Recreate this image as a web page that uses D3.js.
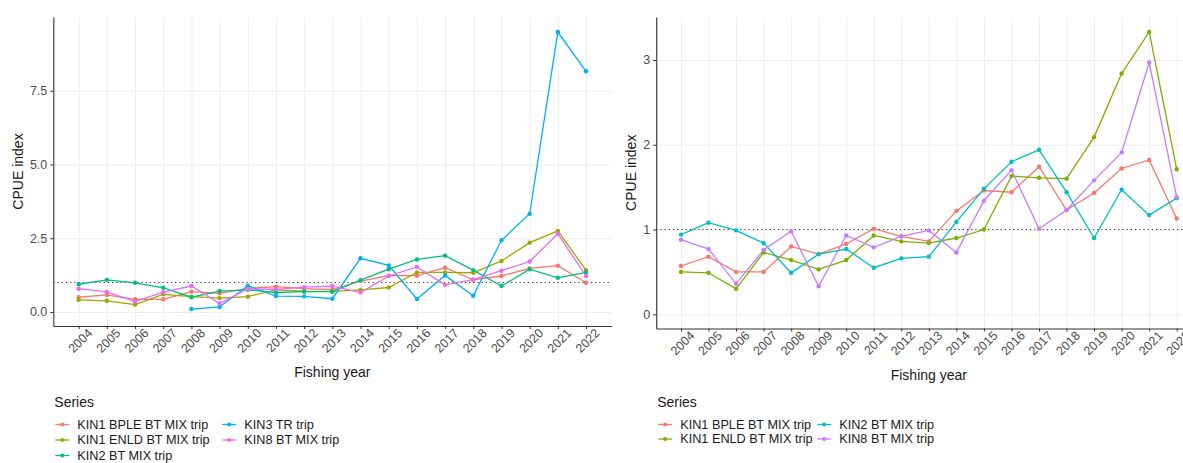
<!DOCTYPE html>
<html>
<head>
<meta charset="utf-8">
<script src="https://cdn.jsdelivr.net/npm/d3@7"></script>
<style>
  body { margin: 0; background: #fff; }
  svg { font-family: "Liberation Sans", Arial, sans-serif; }
  .grid line { stroke: #ebebeb; stroke-width: 0.9; }
  .grid path { display: none; }
  .axis path, .axis line { stroke: #333; }
  .axis text { fill: #4d4d4d; font-size: 12.5px; }
</style>
</head>
<body>
<div id="chart"></div>
<script>
// data
const years = [2004, 2005, 2006, 2007, 2008, 2009, 2010, 2011, 2012, 2013,
  2014, 2015, 2016, 2017, 2018, 2019, 2020, 2021, 2022]

// left panel series
const leftNames = ["KIN1 BPLE BT MIX trip", "KIN1 ENLD BT MIX trip", "KIN2 BT MIX trip", "KIN3 TR trip", "KIN8 BT MIX trip"]
const leftColors = ["#F8766D", "#A3A500", "#00BF7D", "#00B0F6", "#E76BF3"]
const leftBple = [0.50, 0.58, 0.43, 0.43, 0.69, 0.63, 0.80, 0.86, 0.79, 0.76, 1.05, 1.23, 1.23, 1.50, 1.09, 1.22, 1.48, 1.57, 0.99]
const leftEnld = [0.41, 0.38, 0.25, 0.60, 0.52, 0.47, 0.52, 0.75, 0.71, 0.70, 0.75, 0.83, 1.34, 1.34, 1.33, 1.73, 2.35, 2.75, 1.42]
const leftKin2 = [0.94, 1.09, 0.99, 0.82, 0.50, 0.71, 0.75, 0.66, 0.69, 0.69, 1.08, 1.45, 1.78, 1.91, 1.42, 0.88, 1.45, 1.16, 1.34]
const leftKin3 = [null, null, null, null, 0.10, 0.17, 0.89, 0.54, 0.53, 0.45, 1.82, 1.58, 0.44, 1.24, 0.55, 2.43, 3.33, 9.49, 8.16]
const leftKin8 = [0.79, 0.68, 0.35, 0.67, 0.88, 0.29, 0.78, 0.77, 0.84, 0.88, 0.66, 1.22, 1.53, 0.92, 1.10, 1.40, 1.71, 2.65, 1.22]
const leftTicks = [0, 2.5, 5, 7.5]

// right panel series
const rightNames = ["KIN1 BPLE BT MIX trip", "KIN1 ENLD BT MIX trip", "KIN2 BT MIX trip", "KIN8 BT MIX trip"]
const rightColors = ["#F8766D", "#7CAE00", "#00BFC4", "#C77CFF"]
const rightBple = [0.57, 0.68, 0.50, 0.50, 0.80, 0.71, 0.83, 1.01, 0.92, 0.86, 1.22, 1.46, 1.44, 1.74, 1.23, 1.43, 1.72, 1.82, 1.13]
const rightEnld = [0.50, 0.49, 0.30, 0.73, 0.64, 0.53, 0.64, 0.93, 0.86, 0.84, 0.90, 1.00, 1.63, 1.61, 1.60, 2.09, 2.84, 3.33, 1.71]
const rightKin2 = [0.94, 1.08, 0.99, 0.84, 0.49, 0.71, 0.77, 0.55, 0.66, 0.68, 1.09, 1.48, 1.80, 1.94, 1.44, 0.90, 1.47, 1.17, 1.37]
const rightKin8 = [0.88, 0.77, 0.36, 0.76, 0.98, 0.33, 0.93, 0.79, 0.92, 0.99, 0.73, 1.34, 1.70, 1.01, 1.23, 1.58, 1.91, 2.97, 1.38]
const rightTicks = [0, 1, 2, 3]

const svg = d3.select("#chart").append("svg")
  .attr("width", 1183)
  .attr("height", 463)

function drawPanel(opts) {
  const { left, right, top, bottom, yDomain, yTicks, yFormat, yTitleGap, series, names, colors, legendRows, legendCol2, rowGap } = opts
  const g = svg.append("g")

  const x = d3.scaleLinear().domain([2003.1, 2022.9]).range([left, right])
  const y = d3.scaleLinear().domain(yDomain).range([bottom, top])

  // grid
  g.append("g").attr("class", "grid")
    .attr("transform", `translate(0, ${bottom})`)
    .call(d3.axisBottom(x).tickValues(years).tickSize(-(bottom - top)).tickFormat(""))
  g.append("g").attr("class", "grid")
    .attr("transform", `translate(${left}, 0)`)
    .call(d3.axisLeft(y).tickValues(yTicks).tickSize(-(right - left)).tickFormat(""))

  // reference line at 1
  g.append("line")
    .attr("x1", left).attr("x2", right)
    .attr("y1", y(1)).attr("y2", y(1))
    .attr("stroke", "#333")
    .attr("stroke-width", 1)
    .attr("stroke-dasharray", "1.2,3")

  // axes
  const xAxis = g.append("g").attr("class", "axis")
    .attr("transform", `translate(0, ${bottom})`)
    .call(d3.axisBottom(x).tickValues(years).tickSize(3).tickSizeOuter(0).tickFormat(d3.format("d")))
  xAxis.selectAll("text")
    .attr("text-anchor", "end")
    .attr("transform", "translate(7, 1) rotate(-45)")
    .attr("dy", "0.3em")
    .attr("y", 6)
    .attr("x", 0)

  g.append("g").attr("class", "axis")
    .attr("transform", `translate(${left}, 0)`)
    .call(d3.axisLeft(y).tickValues(yTicks).tickSize(3).tickSizeOuter(0).tickFormat(yFormat))
  g.selectAll(".axis .domain").attr("stroke-width", 1.1)

  // titles
  g.append("text")
    .attr("transform", `translate(${left - yTitleGap}, ${(top + bottom) / 2}) rotate(-90)`)
    .attr("text-anchor", "middle")
    .attr("dy", "0.35em")
    .attr("font-size", "14px")
    .attr("fill", "#1a1a1a")
    .text("CPUE index")
  g.append("text")
    .attr("x", (left + right) / 2)
    .attr("y", bottom + 51)
    .attr("text-anchor", "middle")
    .attr("font-size", "14px")
    .attr("fill", "#1a1a1a")
    .text("Fishing year")

  // lines then points
  const line = d3.line()
    .defined(d => d.v != null)
    .x(d => x(d.year))
    .y(d => y(d.v))
  const rows = series.map(vals => vals.map((v, i) => ({ year: years[i], v })))
  rows.forEach((r, i) => {
    g.append("path")
      .datum(r)
      .attr("fill", "none")
      .attr("stroke", colors[i])
      .attr("stroke-width", 1.3)
      .attr("d", line)
  })
  rows.forEach((r, i) => {
    g.selectAll(null)
      .data(r.filter(d => d.v != null))
      .enter().append("circle")
      .attr("cx", d => x(d.year))
      .attr("cy", d => y(d.v))
      .attr("r", 2.2)
      .attr("fill", colors[i])
  })

  // legend
  const lg = g.append("g")
  lg.append("text")
    .attr("x", left + 1)
    .attr("y", 407)
    .attr("font-size", "14px")
    .attr("fill", "#1a1a1a")
    .text("Series")
  names.forEach((name, i) => {
    const col = Math.floor(i / legendRows)
    const row = i % legendRows
    const kx = left + 2 + col * legendCol2
    const ky = 424.5 + row * rowGap
    lg.append("line")
      .attr("x1", kx).attr("x2", kx + 14)
      .attr("y1", ky).attr("y2", ky)
      .attr("stroke", colors[i])
      .attr("stroke-width", 1.3)
    lg.append("circle")
      .attr("cx", kx + 7).attr("cy", ky).attr("r", 2.1)
      .attr("fill", colors[i])
    lg.append("text")
      .attr("x", kx + 22)
      .attr("y", ky)
      .attr("dy", "0.35em")
      .attr("font-size", "12.7px")
      .attr("fill", "#1a1a1a")
      .text(name)
  })
}

drawPanel({
  left: 53.3, right: 611.4, top: 17, bottom: 326,
  yDomain: [-0.475, 10.0], yTicks: leftTicks, yFormat: d3.format(".1f"), yTitleGap: 35,
  series: [leftBple, leftEnld, leftKin2, leftKin3, leftKin8],
  names: leftNames, colors: leftColors, legendRows: 3, legendCol2: 167, rowGap: 15.5
})

drawPanel({
  left: 656.2, right: 1201.5, top: 17, bottom: 328.5,
  yDomain: [-0.167, 3.506], yTicks: rightTicks, yFormat: d3.format("d"), yTitleGap: 25,
  series: [rightBple, rightEnld, rightKin2, rightKin8],
  names: rightNames, colors: rightColors, legendRows: 2, legendCol2: 159, rowGap: 14.5
})
</script>
</body>
</html>
